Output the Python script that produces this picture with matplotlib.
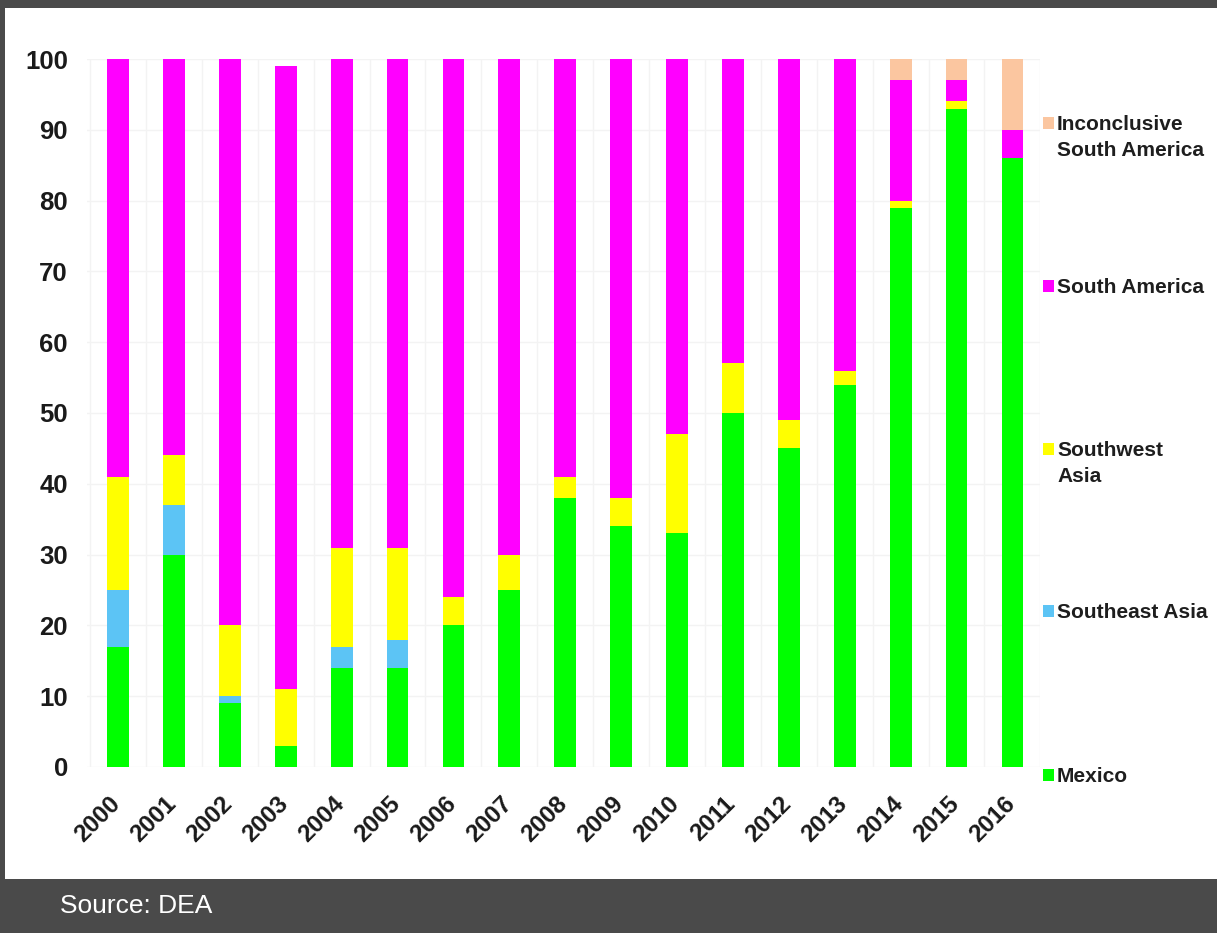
import matplotlib
matplotlib.use("Agg")
import matplotlib.pyplot as plt
import matplotlib.transforms as mtransforms
from matplotlib.patches import Rectangle
import numpy as np

years = [str(y) for y in range(2000, 2017)]
mexico         = [17, 30,  9,  3, 14, 14, 20, 25, 38, 34, 33, 50, 45, 54, 79, 93, 86]
southeast_asia = [ 8,  7,  1,  0,  3,  4,  0,  0,  0,  0,  0,  0,  0,  0,  0,  0,  0]
southwest_asia = [16,  7, 10,  8, 14, 13,  4,  5,  3,  4, 14,  7,  4,  2,  1,  1,  0]
south_america  = [59, 56, 80, 88, 69, 69, 76, 70, 59, 62, 53, 43, 51, 44, 17,  3,  4]
inconclusive   = [ 0,  0,  0,  0,  0,  0,  0,  0,  0,  0,  0,  0,  0,  0,  3,  3, 10]

series_names = ["Mexico", "Southeast Asia", "Southwest\nAsia", "South America",
                "Inconclusive\nSouth America"]
series_vals = [mexico, southeast_asia, southwest_asia, south_america, inconclusive]
colors = ["#00ff00", "#5cc4f5", "#ffff00", "#ff00ff", "#fbc6a0"]
yticks = [0, 10, 20, 30, 40, 50, 60, 70, 80, 90, 100]
source_text = "Source: DEA"

W, H = 1217, 933
fig = plt.figure(figsize=(W / 100, H / 100), dpi=100)
fig.patch.set_facecolor("white")

dark = "#4a4a4a"
# frame bands
fig.add_artist(Rectangle((0, 1 - 8 / H), 1, 8 / H, transform=fig.transFigure,
                         facecolor=dark, edgecolor="none", zorder=0))
fig.add_artist(Rectangle((0, 0), 5 / W, 1, transform=fig.transFigure,
                         facecolor=dark, edgecolor="none", zorder=0))
fig.add_artist(Rectangle((0, 0), 1, 54 / H, transform=fig.transFigure,
                         facecolor=dark, edgecolor="none", zorder=0))
fig.text(60 / W, (H - 906) / H, source_text, color="white", fontsize=19,
         family="Liberation Sans", ha="left", va="center")

ax_l, ax_r = 87.3, 1040.4
ax_b, ax_t = 767, 59
ax = fig.add_axes([ax_l / W, (H - ax_b) / H, (ax_r - ax_l) / W, (ax_b - ax_t) / H])
ax.set_facecolor("none")

x = np.arange(len(years))
bottom = np.zeros(len(years))
for vals, c in zip(series_vals, colors):
    v = np.array(vals, dtype=float)
    ax.bar(x, v, bottom=bottom, width=0.39, color=c, edgecolor="none", zorder=3)
    bottom += v

ax.set_xlim(-0.55, 16.5)
ax.set_ylim(0, 100)
for s in ax.spines.values():
    s.set_visible(False)

# faint grid
for yv in yticks:
    ax.axhline(yv, color="#f3f3f3", lw=1, zorder=1)
for xv in np.arange(-0.5, 16.6, 1):
    ax.axvline(xv, color="#f3f3f3", lw=1, zorder=1)

ax.set_yticks(yticks)
ax.set_yticklabels([str(t) for t in yticks], fontsize=18.5, fontweight="bold",
                   family="Liberation Sans", color="#1a1a1a")
ax.tick_params(axis="y", length=0, pad=14)
ax.set_xticks(x)
ax.set_xticklabels(years, rotation=45, ha="right", va="top", fontsize=17.5,
                   fontweight="bold", family="Liberation Sans", color="#1a1a1a")
ax.tick_params(axis="x", length=0, pad=18)
offset = mtransforms.ScaledTranslation(7 / 100, 0, fig.dpi_scale_trans)
for lab in ax.get_xticklabels():
    lab.set_transform(lab.get_transform() + offset)

# legend (manual, bottom-up order)
leg_y = [775, 611, 449, 286, 123]
for name, c, yy in zip(series_names, colors, leg_y):
    fig.add_artist(Rectangle((1043 / W, (H - yy - 6) / H), 11 / W, 12 / H,
                             transform=fig.transFigure, facecolor=c,
                             edgecolor="none"))
    fig.text(1057 / W, (H - yy + 8) / H, name, fontsize=15, fontweight="bold",
             family="Liberation Sans", color="#1e1e1e", ha="left", va="top",
             linespacing=1.45)

fig.savefig("out.png", dpi=100)
